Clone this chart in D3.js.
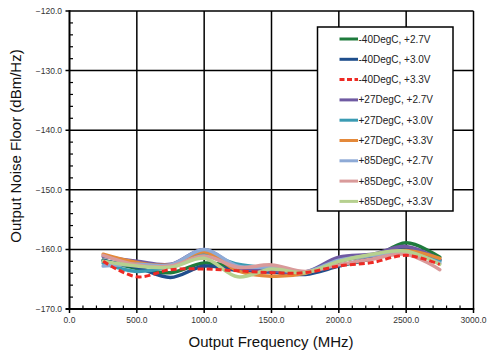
<!DOCTYPE html>
<html><head><meta charset="utf-8">
<script src="https://cdn.jsdelivr.net/npm/d3@7"></script>
<style>body{margin:0;background:#fff}svg{display:block}text{font-family:"Liberation Sans",Arial,sans-serif}</style>
</head><body><svg id="c" width="487" height="353"></svg>
<script>
const freqs = [250, 500, 750, 1000, 1250, 1500, 1750, 2000, 2250, 2500, 2750];
const seriesNames = ["-40DegC, +2.7V","-40DegC, +3.0V","-40DegC, +3.3V","+27DegC, +2.7V","+27DegC, +3.0V","+27DegC, +3.3V","+85DegC, +2.7V","+85DegC, +3.0V","+85DegC, +3.3V"];
const seriesColors = ["#1e7b3c","#1f4e8c","#ee2a24","#6f5aa2","#3a9bb3","#e4893a","#8eaad6","#d99a9a","#b6d08f"];
const m40_27 = [-161.8,-163.2,-163.9,-162.3,-163.0,-163.5,-163.8,-162.7,-161.5,-158.9,-161.3];
const m40_30 = [-161.9,-163.0,-164.7,-162.8,-163.5,-163.8,-164.2,-162.8,-161.4,-159.8,-161.8];
const m40_33 = [-162.0,-164.6,-163.4,-163.3,-163.6,-163.9,-163.9,-162.8,-162.2,-161.0,-162.5];
const p27_27 = [-161.2,-162.0,-162.5,-160.0,-163.0,-163.6,-163.8,-161.3,-160.8,-159.5,-161.7];
const p27_30 = [-162.3,-163.7,-162.8,-160.8,-162.5,-163.2,-163.8,-162.0,-161.0,-160.3,-162.0];
const p27_33 = [-160.8,-162.2,-162.6,-160.4,-163.6,-164.5,-164.0,-162.0,-160.9,-160.2,-161.5];
const p85_27 = [-162.8,-162.5,-162.6,-160.0,-162.8,-163.0,-163.8,-161.8,-161.0,-160.5,-162.3];
const p85_30 = [-161.0,-162.6,-162.8,-161.1,-163.0,-162.6,-163.7,-162.6,-161.6,-160.8,-163.4];
const p85_33 = [-162.0,-162.8,-163.0,-161.5,-164.6,-163.3,-163.9,-162.0,-160.8,-160.3,-162.5];
const seriesValues = [m40_27,m40_30,m40_33,p27_27,p27_30,p27_33,p85_27,p85_30,p85_33];
const xTicks = [0,500,1000,1500,2000,2500,3000];
const yTicks = [-170,-160,-150,-140,-130,-120];

const svg = d3.select("#c");
const x = d3.scaleLinear().domain([0,3000]).range([69.5,473.5]);
const y = d3.scaleLinear().domain([-170,-120]).range([309,11]);

// gridlines
const g = svg.append("g");
g.selectAll(".vg").data(xTicks.slice(1)).join("line")
  .attr("x1",d=>x(d)).attr("x2",d=>x(d)).attr("y1",y(-120)).attr("y2",y(-170))
  .attr("stroke","#000").attr("stroke-width",1.5);
g.selectAll(".hg").data(yTicks.slice(1)).join("line")
  .attr("x1",x(0)-4).attr("x2",x(3000)).attr("y1",d=>y(d)).attr("y2",d=>y(d))
  .attr("stroke","#000").attr("stroke-width",1.5);

// minor ticks
const xMinor = d3.range(0,3001,100).filter(v=>v%500!==0);
const yMinor = d3.range(-170,-119,2).filter(v=>v%10!==0);
g.selectAll(".xm").data(xMinor).join("line")
  .attr("x1",d=>x(d)).attr("x2",d=>x(d)).attr("y1",y(-170)).attr("y2",y(-170)-3.5)
  .attr("stroke","#000").attr("stroke-width",1.2);
g.selectAll(".ym").data(yMinor).join("line")
  .attr("x1",x(0)).attr("x2",x(0)+3.5).attr("y1",d=>y(d)).attr("y2",d=>y(d))
  .attr("stroke","#000").attr("stroke-width",1.2);
// major ticks outward
g.selectAll(".xM").data(xTicks).join("line")
  .attr("x1",d=>x(d)).attr("x2",d=>x(d)).attr("y1",y(-170)).attr("y2",y(-170)+4)
  .attr("stroke","#000").attr("stroke-width",1.5);

// axes lines
g.append("line").attr("x1",x(0)).attr("x2",x(0)).attr("y1",y(-120)-0.75).attr("y2",y(-170)+0.75).attr("stroke","#000").attr("stroke-width",2);
g.append("line").attr("x1",x(0)-4).attr("x2",x(3000)+0.75).attr("y1",y(-170)).attr("y2",y(-170)).attr("stroke","#000").attr("stroke-width",2);

// tick labels
svg.append("g").selectAll("text").data(xTicks).join("text")
  .attr("x",d=>x(d)).attr("y",323).attr("text-anchor","middle")
  .attr("font-size",8.5).attr("fill","#333").text(d=>d3.format(".1f")(d));
svg.append("g").selectAll("text").data(yTicks).join("text")
  .attr("x",62).attr("y",d=>y(d)+3).attr("text-anchor","end")
  .attr("font-size",8.5).attr("fill","#333").text(d=>d3.format(".1f")(d));

// axis titles
svg.append("text").attr("x",271).attr("y",347).attr("text-anchor","middle").attr("font-size",15).attr("fill","#111").text("Output Frequency (MHz)");
svg.append("text").attr("transform","translate(21,146) rotate(-90)").attr("text-anchor","middle").attr("font-size",15).attr("fill","#111").text("Output Noise Floor (dBm/Hz)");

// series
const line = d3.line().x((d,i)=>x(freqs[i])).y(d=>y(d)).curve(d3.curveCatmullRom.alpha(0.5));
const drawOrder = [0,1,3,4,5,6,7,8,2];
svg.append("g").selectAll("path").data(drawOrder).join("path")
  .attr("d",i=>line(seriesValues[i])).attr("fill","none")
  .attr("stroke",i=>seriesColors[i]).attr("stroke-width",i=>i===2?3:3.5)
  .attr("stroke-dasharray",i=>i===2?"6,3":null).attr("stroke-linecap",i=>i===2?"butt":"round");

// legend
const lg = svg.append("g");
lg.append("rect").attr("x",317.5).attr("y",27).attr("width",135.5).attr("height",184)
  .attr("fill","#fff").attr("stroke","#000").attr("stroke-width",1.5);
const rows = lg.selectAll("g").data(seriesNames).join("g")
  .attr("transform",(d,i)=>`translate(0,${39+i*20.3})`);
rows.append("line").attr("x1",339.5).attr("x2",358).attr("y1",0).attr("y2",0)
  .attr("stroke",(d,i)=>seriesColors[i]).attr("stroke-width",3)
  .attr("stroke-dasharray",(d,i)=>i===2?"5,2.5":null);
rows.append("text").attr("x",358.5).attr("y",3.5).attr("font-size",10).attr("fill","#222").text(d=>d);
</script></body></html>
